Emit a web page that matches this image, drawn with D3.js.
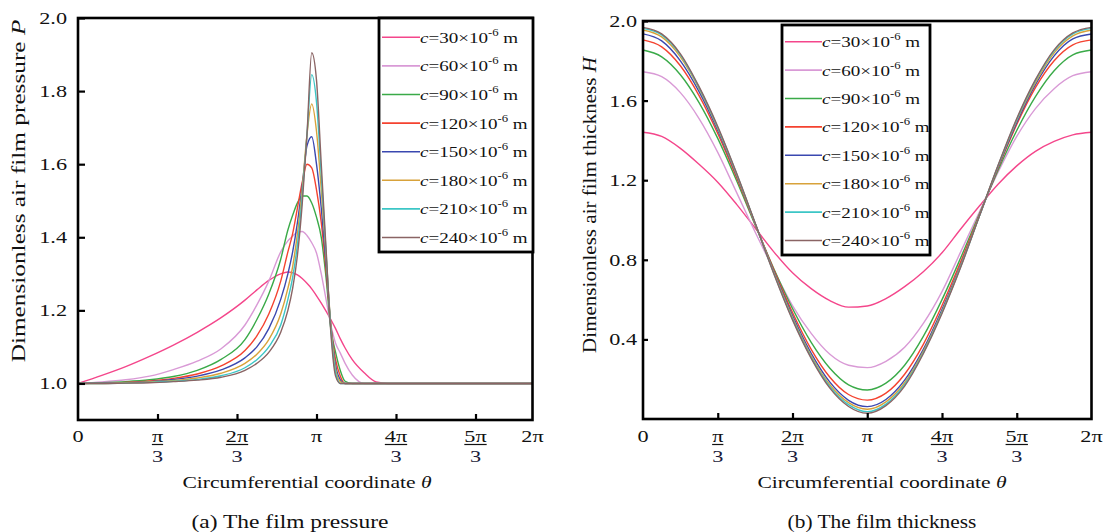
<!DOCTYPE html>
<html>
<head>
<meta charset="utf-8">
<script src="https://cdn.jsdelivr.net/npm/d3@7"></script>
<style>
  body { margin: 0; background: #fff; }
  svg text { font-family: "Liberation Serif", "Times New Roman", serif; fill: #111; }
</style>
</head>
<body>
<svg id="chart" width="1104" height="532"></svg>
<script>
// clearance values (x10^-6 m) and line colours
const clearances = ['30', '60', '90', '120', '150', '180', '210', '240'];
const colors = ['#f4468b', '#d99ad6', '#3aaa48', '#f4422f', '#3a48b0', '#d8a23a', '#3cc6c6', '#8a6464'];

// (a) pressure: circumferential positions in units of pi
const thetaP = [0, 0.1, 0.2, 0.3, 0.4, 0.5, 0.6, 0.7, 0.75, 0.8, 0.85, 0.88, 0.9, 0.92, 0.94, 0.96, 0.98, 1.0,
                1.02, 1.04, 1.06, 1.08, 1.1, 1.12, 1.15, 1.2, 1.25, 1.3, 2.0];
const pC30  = [1.0, 1.022, 1.046, 1.074, 1.105, 1.14, 1.18, 1.228, 1.256, 1.282, 1.30, 1.305, 1.303, 1.297, 1.287, 1.274, 1.259, 1.24,
               1.22, 1.198, 1.175, 1.15, 1.122, 1.097, 1.065, 1.029, 1.004, 1.0, 1.0];
const pC60  = [1.0, 1.004, 1.01, 1.02, 1.038, 1.061, 1.095, 1.16, 1.215, 1.28, 1.36, 1.39, 1.403, 1.414, 1.416, 1.405, 1.385, 1.357,
               1.30, 1.23, 1.16, 1.11, 1.083, 1.055, 1.023, 1.0, 1.0, 1.0, 1.0];
const pC90  = [1.0, 1.002, 1.005, 1.01, 1.019, 1.036, 1.066, 1.12, 1.175, 1.245, 1.34, 1.42, 1.46, 1.494, 1.513, 1.513, 1.494, 1.455,
               1.40, 1.29, 1.15, 1.085, 1.035, 1.006, 1.0, 1.0, 1.0, 1.0, 1.0];
const pC120 = [1.0, 1.001, 1.003, 1.007, 1.014, 1.026, 1.048, 1.09, 1.13, 1.19, 1.28, 1.36, 1.41, 1.48, 1.55, 1.60, 1.59, 1.53,
               1.44, 1.31, 1.16, 1.065, 1.02, 1.0, 1.0, 1.0, 1.0, 1.0, 1.0];
const pC150 = [1.0, 1.001, 1.002, 1.005, 1.011, 1.02, 1.037, 1.07, 1.10, 1.15, 1.23, 1.30, 1.36, 1.44, 1.54, 1.65, 1.675, 1.60,
               1.48, 1.33, 1.16, 1.05, 1.01, 1.0, 1.0, 1.0, 1.0, 1.0, 1.0];
const pC180 = [1.0, 1.0, 1.002, 1.004, 1.008, 1.015, 1.028, 1.055, 1.08, 1.12, 1.19, 1.26, 1.32, 1.41, 1.53, 1.68, 1.765, 1.69,
               1.53, 1.35, 1.16, 1.04, 1.005, 1.0, 1.0, 1.0, 1.0, 1.0, 1.0];
const pC210 = [1.0, 1.0, 1.001, 1.003, 1.006, 1.011, 1.021, 1.043, 1.065, 1.10, 1.16, 1.23, 1.29, 1.38, 1.51, 1.68, 1.845, 1.77,
               1.57, 1.36, 1.15, 1.03, 1.0, 1.0, 1.0, 1.0, 1.0, 1.0, 1.0];
const pC240 = [1.0, 1.0, 1.001, 1.002, 1.005, 1.009, 1.017, 1.036, 1.055, 1.085, 1.14, 1.20, 1.26, 1.35, 1.49, 1.68, 1.905, 1.83,
               1.60, 1.37, 1.14, 1.02, 1.0, 1.0, 1.0, 1.0, 1.0, 1.0, 1.0];

// (b) thickness: circumferential positions in units of pi (every pi/12)
const thetaH = d3.range(25).map(k => k / 12);
const hC30  = [1.441, 1.42, 1.36, 1.28, 1.19, 1.08, 0.96, 0.84, 0.735, 0.655, 0.595, 0.562, 0.568,
               0.605, 0.665, 0.74, 0.835, 0.955, 1.07, 1.18, 1.272, 1.345, 1.395, 1.428, 1.441];
const hC60  = [1.745, 1.72, 1.64, 1.51, 1.34, 1.14, 0.94, 0.75, 0.57, 0.43, 0.325, 0.27, 0.258,
               0.29, 0.36, 0.48, 0.64, 0.84, 1.04, 1.24, 1.42, 1.56, 1.66, 1.725, 1.745];
const hC90  = [1.854, 1.82, 1.73, 1.59, 1.41, 1.20, 0.975, 0.755, 0.555, 0.385, 0.255, 0.172, 0.146,
               0.18, 0.27, 0.415, 0.60, 0.81, 1.03, 1.25, 1.45, 1.62, 1.75, 1.83, 1.854];
const hC120 = [1.905, 1.87, 1.775, 1.625, 1.435, 1.215, 0.98, 0.75, 0.535, 0.35, 0.21, 0.123, 0.095,
               0.13, 0.225, 0.375, 0.57, 0.79, 1.025, 1.26, 1.48, 1.665, 1.80, 1.88, 1.905];
const hC150 = [1.935, 1.90, 1.80, 1.645, 1.45, 1.225, 0.982, 0.742, 0.52, 0.33, 0.185, 0.094, 0.062,
               0.098, 0.195, 0.35, 0.55, 0.775, 1.02, 1.265, 1.49, 1.68, 1.825, 1.91, 1.935];
const hC180 = [1.955, 1.92, 1.82, 1.66, 1.46, 1.23, 0.983, 0.737, 0.51, 0.318, 0.172, 0.082, 0.049,
               0.086, 0.182, 0.34, 0.54, 0.77, 1.02, 1.27, 1.50, 1.69, 1.84, 1.925, 1.955];
const hC210 = [1.963, 1.93, 1.83, 1.665, 1.465, 1.235, 0.984, 0.733, 0.503, 0.31, 0.163, 0.072, 0.037,
               0.075, 0.173, 0.333, 0.535, 0.765, 1.02, 1.272, 1.505, 1.70, 1.85, 1.935, 1.963];
const hC240 = [1.968, 1.935, 1.835, 1.67, 1.47, 1.237, 0.985, 0.73, 0.498, 0.305, 0.155, 0.063, 0.029,
               0.067, 0.165, 0.328, 0.53, 0.762, 1.02, 1.275, 1.51, 1.705, 1.855, 1.94, 1.968];

// tick labels
const xTickVals = [0, 1/3, 2/3, 1, 4/3, 5/3, 2];
const xTickNum = ['0', 'π', '2π', 'π', '4π', '5π', '2π'];
const xTickDen = ['', '3', '3', '', '3', '3', ''];
const yTicksP = [1.0, 1.2, 1.4, 1.6, 1.8, 2.0];
const yTicksH = [0.4, 0.8, 1.2, 1.6, 2.0];

const pressureSeries = [pC30, pC60, pC90, pC120, pC150, pC180, pC210, pC240];
const thicknessSeries = [hC30, hC60, hC90, hC120, hC150, hC180, hC210, hC240];

const SX = 1.27; // the source figure is stretched horizontally
const svg = d3.select('#chart');
svg.append('rect').attr('width', 1104).attr('height', 532).attr('fill', '#fff');

// stretched text helper
function sText(g, x, y, anchor, size) {
  return g.append('text')
    .attr('transform', `translate(${x},${y}) scale(${SX},1)`)
    .attr('text-anchor', anchor)
    .style('font-size', size + 'px');
}

function drawPanel(cfg) {
  const g = svg.append('g');
  const x = cfg.x, y = cfg.y;
  const [x0, x1] = [x(0), x(2 * Math.PI)];
  const [y0, y1] = [y.range()[0], y.range()[1]];

  // curves
  const line = d3.line()
    .x(d => x(d[0] * Math.PI))
    .y(d => y(d[1]))
    .curve(cfg.curve);
  cfg.series.forEach((vals, i) => {
    g.append('path')
      .datum(cfg.theta.map((t, j) => [t, vals[j]]))
      .attr('d', line)
      .attr('fill', 'none')
      .attr('stroke', colors[i])
      .attr('stroke-width', 1.4);
  });

  // inward ticks
  g.append('g')
    .attr('transform', `translate(${x0},0)`)
    .call(d3.axisLeft(y).tickValues(cfg.yTicks).tickSize(-cfg.yTickLen).tickFormat(''))
    .call(a => a.select('.domain').remove())
    .call(a => a.selectAll('line').attr('stroke', '#000').attr('stroke-width', 2.2));
  g.append('g')
    .attr('transform', `translate(0,${y0})`)
    .call(d3.axisBottom(x).tickValues(xTickVals.slice(1, 6).map(v => v * Math.PI)).tickSize(-6).tickFormat(''))
    .call(a => a.select('.domain').remove())
    .call(a => a.selectAll('line').attr('stroke', '#000').attr('stroke-width', 2.2));

  // frame
  g.append('rect')
    .attr('x', x0).attr('y', y1)
    .attr('width', x1 - x0).attr('height', y0 - y1)
    .attr('fill', 'none').attr('stroke', '#000').attr('stroke-width', 2.6);

  // y tick labels
  cfg.yTicks.forEach(v => {
    sText(g, x0 - cfg.yLabelGap, y(v) + 6, 'end', 17.5).text(v.toFixed(1));
  });

  // x tick labels (fractions of pi)
  xTickVals.forEach((v, i) => {
    const px = x(v * Math.PI);
    const num = sText(g, px, 442, 'middle', 17.5).text(xTickNum[i]);
    if (xTickDen[i]) {
      const w = num.node().getComputedTextLength() * SX;
      g.append('line')
        .attr('x1', px - w / 2).attr('x2', px + w / 2)
        .attr('y1', 444.5).attr('y2', 444.5)
        .attr('stroke', '#111').attr('stroke-width', 1.2);
      sText(g, px, 462, 'middle', 17.5).style('fill', '#1c1c3a').text(xTickDen[i]);
    }
  });

  // axis titles
  const xt = sText(g, cfg.xTitleX, 488, 'middle', 17);
  xt.append('tspan').text('Circumferential coordinate ');
  xt.append('tspan').style('font-style', 'italic').text('θ');

  const yt = g.append('text').attr('text-anchor', 'middle').style('font-size', '19px');
  yt.append('tspan').text(cfg.yTitle + ' ');
  yt.append('tspan').style('font-style', 'italic').text(cfg.yTitleVar);
  const ys = cfg.yTitleLen / yt.node().getComputedTextLength();
  yt.attr('transform', `translate(${cfg.yTitlePos[0]},${cfg.yTitlePos[1]}) rotate(-90) scale(${ys},1)`);

  const cap = g.append('text').attr('text-anchor', 'middle').style('font-size', '19.5px').text(cfg.caption);
  const cs = cfg.captionLen / cap.node().getComputedTextLength();
  cap.attr('transform', `translate(${cfg.captionX},528) scale(${cs},1)`);

  // legend
  const L = cfg.legend;
  g.append('rect')
    .attr('x', L.x).attr('y', L.y).attr('width', L.w).attr('height', L.h)
    .attr('fill', '#fff').attr('stroke', '#000').attr('stroke-width', 2.8);
  clearances.forEach((c, i) => {
    const ry = L.row0 + i * L.step;
    g.append('line')
      .attr('x1', L.x + 3).attr('x2', L.textX)
      .attr('y1', ry).attr('y2', ry)
      .attr('stroke', colors[i]).attr('stroke-width', 1.6);
    const t = sText(g, L.textX, ry + 5.5, 'start', 15);
    t.append('tspan').style('font-style', 'italic').text('c');
    t.append('tspan').text('=' + c + '×10');
    t.append('tspan').attr('dy', -7).style('font-size', '10px').text('-6');
    t.append('tspan').attr('dy', 7).text(' m');
  });
}

drawPanel({
  x: d3.scaleLinear().domain([0, 5 * Math.PI / 3, 2 * Math.PI]).range([78, 475.5, 532.5]),
  y: d3.scaleLinear().domain([0.9, 2.0]).range([420, 18]),
  theta: thetaP,
  series: pressureSeries,
  curve: d3.curveMonotoneX,
  yTicks: yTicksP,
  yTickLen: 7,
  yLabelGap: 11,
  xTitleX: 307,
  yTitle: 'Dimensionless air film pressure',
  yTitleVar: 'P',
  yTitlePos: [25, 191],
  yTitleLen: 343,
  caption: '(a) The film pressure',
  captionX: 290,
  captionLen: 197,
  legend: { x: 379, y: 18, w: 154, h: 234, row0: 37.3, step: 28.6, textX: 420 }
});

drawPanel({
  x: d3.scaleLinear().domain([0, 2 * Math.PI]).range([643, 1091.5]),
  y: d3.scaleLinear().domain([0, 2.0]).range([419, 21]),
  theta: thetaH,
  series: thicknessSeries,
  curve: d3.curveMonotoneX,
  yTicks: yTicksH,
  yTickLen: 5,
  yLabelGap: 6,
  xTitleX: 882,
  yTitle: 'Dimensionless air film thickness',
  yTitleVar: 'H',
  yTitlePos: [596, 205],
  yTitleLen: 296,
  caption: '(b) The film thickness',
  captionX: 882,
  captionLen: 189,
  legend: { x: 782, y: 25, w: 148, h: 230, row0: 41.7, step: 28.4, textX: 822 }
});
</script>
</body>
</html>
